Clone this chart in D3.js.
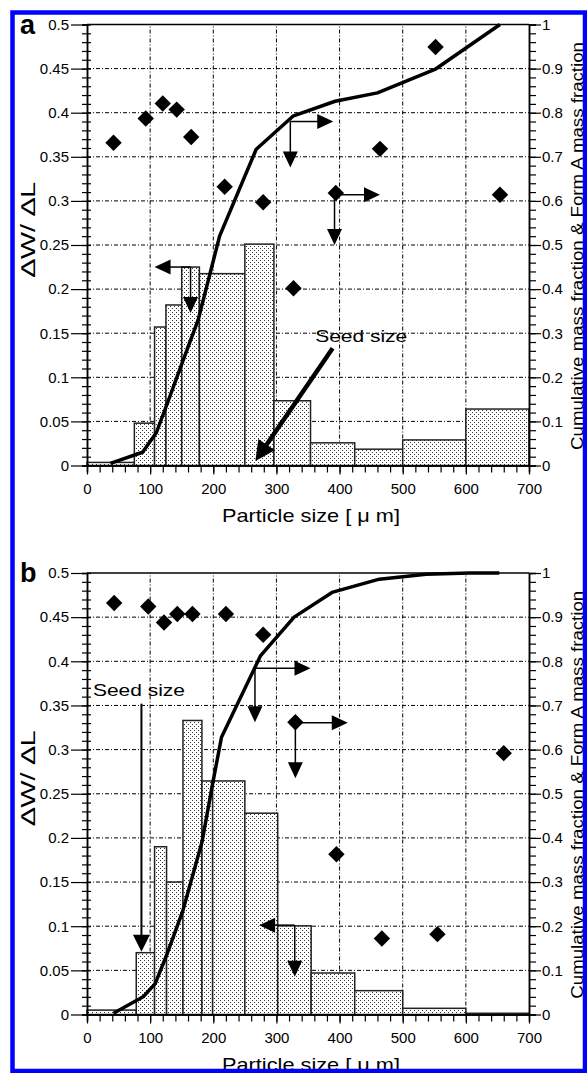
<!DOCTYPE html>
<html>
<head>
<meta charset="utf-8">
<script src="https://cdn.jsdelivr.net/npm/d3@7"></script>
<style>
  body { margin: 0; background: #fff; }
  text { font-family: "Liberation Sans", Arial, sans-serif; fill: #000; }
</style>
</head>
<body>
<svg id="chart" width="587" height="1073"></svg>
<script>
// ---------- data ----------
const xTickValues = [0, 100, 200, 300, 400, 500, 600, 700]
const leftTickValues = [0, 0.05, 0.1, 0.15, 0.2, 0.25, 0.3, 0.35, 0.4, 0.45, 0.5]
const rightTickValues = [0, 0.1, 0.2, 0.3, 0.4, 0.5, 0.6, 0.7, 0.8, 0.9, 1]

// panel a : size distribution (dW/dL) histogram
const binEdgesA = [0, 75, 107, 125, 150, 178, 250, 296, 354, 424, 500, 600, 700]
const dwdlA = [0.0035, 0.048, 0.157, 0.182, 0.225, 0.2175, 0.251, 0.0734, 0.0257, 0.0185, 0.029, 0.064]
// cumulative mass fraction (right axis)
const cumulativeA = [[37, 0.005], [88, 0.03], [110, 0.075], [127, 0.14], [150, 0.23], [176, 0.33],
  [210, 0.52], [268, 0.717], [327, 0.793], [393, 0.826], [460, 0.845], [551, 0.898], [654, 1.0]]
// Form A mass fraction (right axis)
const formA_A = [[42, 0.732], [93, 0.787], [120, 0.821], [142, 0.807], [165, 0.745], [218, 0.632],
  [279, 0.597], [327, 0.402], [394, 0.618], [464, 0.718], [552, 0.949], [654, 0.614]]

// panel b
const binEdgesB = [0, 78, 107, 126, 152, 182, 199, 250, 302, 355, 424, 500, 600, 700]
const dwdlB = [0.005, 0.07, 0.19, 0.15, 0.333, 0.2645, 0.2645, 0.228, 0.1004, 0.047, 0.027, 0.007, 0.0014]
const cumulativeB = [[42, 0.003], [89, 0.04], [108, 0.07], [127, 0.138], [152, 0.236], [182, 0.39],
  [199, 0.523], [213, 0.628], [275, 0.813], [328, 0.9], [388, 0.956], [463, 0.986], [537, 0.997],
  [606, 1.0], [653, 1.0]]
const formA_B = [[43, 0.932], [97, 0.924], [122, 0.888], [143, 0.907], [167, 0.907], [220, 0.907],
  [279, 0.86], [330, 0.662], [395, 0.363], [467, 0.172], [555, 0.182], [660, 0.592]]

// annotation arrows, in data units (x: um, y: right axis fraction)
const arrowsA = [
  { from: [322, 0.78], to: [390, 0.78] }, { from: [322, 0.78], to: [322, 0.676] },
  { from: [392, 0.614], to: [464, 0.614] }, { from: [392, 0.614], to: [392, 0.50] },
  { from: [164, 0.45], to: [107, 0.45] }, { from: [164, 0.45], to: [164, 0.346] }
]
const arrowsB = [
  { from: [266, 0.784], to: [354, 0.784] }, { from: [266, 0.784], to: [266, 0.662] },
  { from: [330, 0.661], to: [413, 0.661] }, { from: [330, 0.661], to: [330, 0.535] },
  { from: [329, 0.2024], to: [272.6, 0.2024] }, { from: [329, 0.2024], to: [329, 0.0855] }
]
const seedA = { text: "Seed size", at: [361.5, 0.28], from: [389, 0.266], to: [266.6, 0.01] }
const seedB = { text: "Seed size", at: [9.5, 0.7225], from: [86.2, 0.704], to: [86.2, 0.142] }

// ---------- drawing ----------
const svg = d3.select("#chart")
svg.append("rect").attr("width", 587).attr("height", 1073).attr("fill", "#fff")

const defs = svg.append("defs")
const pat = defs.append("pattern").attr("id", "dots")
  .attr("width", 4).attr("height", 4).attr("patternUnits", "userSpaceOnUse")
pat.append("rect").attr("width", 4).attr("height", 4).attr("fill", "#fff")
pat.append("rect").attr("x", 0).attr("y", 0).attr("width", 1).attr("height", 1).attr("fill", "#333")
pat.append("rect").attr("x", 2).attr("y", 2).attr("width", 1).attr("height", 1).attr("fill", "#333")

function arrow(g, p1, p2, width, headLen, headHalf) {
  const dx = p2[0] - p1[0], dy = p2[1] - p1[1]
  const len = Math.sqrt(dx * dx + dy * dy)
  const ux = dx / len, uy = dy / len
  const bx = p2[0] - ux * headLen, by = p2[1] - uy * headLen
  g.append("line")
    .attr("x1", p1[0]).attr("y1", p1[1]).attr("x2", bx + ux * 2).attr("y2", by + uy * 2)
    .attr("stroke", "#000").attr("stroke-width", width)
  g.append("path")
    .attr("d", `M${p2[0]},${p2[1]}L${bx - uy * headHalf},${by + ux * headHalf}L${bx + uy * headHalf},${by - ux * headHalf}Z`)
    .attr("fill", "#000")
}

function drawPanel(cfg) {
  const { top, bottom, label, edges, dwdl, cumulative, formA, arrows, seed, seedThick } = cfg
  const x = d3.scaleLinear().domain([0, 700]).range([87, 529])
  const yL = d3.scaleLinear().domain([0, 0.5]).range([bottom, top])
  const yR = d3.scaleLinear().domain([0, 1]).range([bottom, top])
  const g = svg.append("g")

  // grid (dash-dot)
  g.selectAll(".hgrid").data(leftTickValues.slice(1, -1)).enter().append("line")
    .attr("x1", x(0)).attr("x2", x(700)).attr("y1", d => yL(d)).attr("y2", d => yL(d))
    .attr("stroke", "#000").attr("stroke-width", 1).attr("stroke-dasharray", "4,2,1,2")
  g.selectAll(".vgrid").data(xTickValues.slice(1, -1)).enter().append("line")
    .attr("y1", yL(0)).attr("y2", yL(0.5)).attr("x1", d => x(d)).attr("x2", d => x(d))
    .attr("stroke", "#000").attr("stroke-width", 1).attr("stroke-dasharray", "4,2,1,2")

  // histogram bars
  g.selectAll(".bar").data(dwdl).enter().append("rect")
    .attr("x", (d, i) => x(edges[i]))
    .attr("width", (d, i) => x(edges[i + 1]) - x(edges[i]))
    .attr("y", d => yL(d))
    .attr("height", d => yL(0) - yL(d))
    .attr("fill", "url(#dots)").attr("stroke", "#222").attr("stroke-width", 1.5)

  // cumulative curve
  g.append("path").datum(cumulative)
    .attr("d", d3.line().x(d => x(d[0])).y(d => yR(d[1])))
    .attr("fill", "none").attr("stroke", "#000").attr("stroke-width", 3.5)
    .attr("stroke-linejoin", "round")

  // form A diamonds
  g.selectAll(".dia").data(formA).enter().append("rect")
    .attr("x", -5.8).attr("y", -5.8).attr("width", 11.6).attr("height", 11.6)
    .attr("transform", d => `translate(${x(d[0])},${yR(d[1])}) rotate(45)`)
    .attr("fill", "#000")

  // annotation arrows
  arrows.forEach(a => arrow(g, [x(a.from[0]), yR(a.from[1])], [x(a.to[0]), yR(a.to[1])], 1.5, 16, 7.5))
  arrow(g, [x(seed.from[0]), yR(seed.from[1])], [x(seed.to[0]), yR(seed.to[1])],
    seedThick ? 4.5 : 2, seedThick ? 20 : 17, seedThick ? 10 : 8.5)
  g.append("text").attr("x", x(seed.at[0])).attr("y", yR(seed.at[1]))
    .attr("font-size", 17).attr("textLength", 92).attr("lengthAdjust", "spacingAndGlyphs")
    .text(seed.text)

  // axes
  const left = g.append("g").attr("transform", `translate(${x(0)},0)`)
    .call(d3.axisLeft(yL).tickValues(leftTickValues).tickSize(16).tickPadding(2)
      .tickSizeOuter(0).tickFormat(d3.format("~g")))
  const leftMinor = g.append("g").attr("transform", `translate(${x(0)},0)`)
    .call(d3.axisLeft(yL).tickValues(d3.range(0, 51).map(i => i / 100)).tickSize(5).tickFormat(""))
  leftMinor.selectAll("line").attr("x2", -5).attr("x1", 4)
  const right = g.append("g").attr("transform", `translate(${x(700)},0)`)
    .call(d3.axisRight(yR).tickValues(rightTickValues).tickSize(12).tickPadding(1)
      .tickSizeOuter(0).tickFormat(d3.format("~g")))
  const rightMinor = g.append("g").attr("transform", `translate(${x(700)},0)`)
    .call(d3.axisRight(yR).tickValues(d3.range(0, 51).map(i => i / 50)).tickSize(7).tickFormat(""))
  const bottomAx = g.append("g").attr("transform", `translate(0,${yL(0)})`)
    .call(d3.axisBottom(x).tickValues(xTickValues).tickSize(9).tickPadding(9).tickSizeOuter(0))
  const bottomMinor = g.append("g").attr("transform", `translate(0,${yL(0)})`)
    .call(d3.axisBottom(x).tickValues(d3.range(0, 36).map(i => i * 20)).tickSize(7).tickFormat(""))
  ;[left, leftMinor, right, rightMinor, bottomAx, bottomMinor].forEach(a => {
    a.selectAll("path.domain").attr("stroke", "#000").attr("stroke-width", 1.5)
    a.selectAll("line").attr("stroke", "#000").attr("stroke-width", 1.2)
    a.selectAll("text").attr("font-size", 15).attr("font-family", "Liberation Sans, Arial, sans-serif")
  })
  // top frame line
  g.append("line").attr("x1", x(0)).attr("x2", x(700)).attr("y1", yL(0.5)).attr("y2", yL(0.5))
    .attr("stroke", "#000").attr("stroke-width", 1.5)

  // titles
  g.append("text").attr("x", 20).attr("y", top + 9).attr("font-size", 27).attr("font-weight", "bold")
    .text(label)
  g.append("text").attr("x", 311).attr("y", bottom + 56).attr("font-size", 19)
    .attr("text-anchor", "middle").attr("textLength", 178).attr("lengthAdjust", "spacingAndGlyphs")
    .text("Particle size [ \u03bc m]")
  g.append("text").attr("transform", `translate(35,${top + 205}) rotate(-90)`)
    .attr("font-size", 20).attr("text-anchor", "middle")
    .attr("textLength", 95).attr("lengthAdjust", "spacingAndGlyphs")
    .text("\u2206W/ \u2206L")
  g.append("text").attr("transform", `translate(583,${(top + bottom) / 2 + 1}) rotate(-90)`)
    .attr("font-size", 16).attr("text-anchor", "middle")
    .attr("textLength", 408).attr("lengthAdjust", "spacingAndGlyphs")
    .text("Cumulative mass fraction & Form A mass fraction")
}

drawPanel({ top: 24.5, bottom: 465.5, label: "a", edges: binEdgesA, dwdl: dwdlA,
  cumulative: cumulativeA, formA: formA_A, arrows: arrowsA, seed: seedA, seedThick: true })
drawPanel({ top: 573, bottom: 1014.5, label: "b", edges: binEdgesB, dwdl: dwdlB,
  cumulative: cumulativeB, formA: formA_B, arrows: arrowsB, seed: seedB, seedThick: false })

// blue outer frame
svg.append("rect").attr("x", 12.5).attr("y", 12.5).attr("width", 572.5).attr("height", 1058.5)
  .attr("fill", "none").attr("stroke", "#0000ff").attr("stroke-width", 4.5)
</script>
</body>
</html>
